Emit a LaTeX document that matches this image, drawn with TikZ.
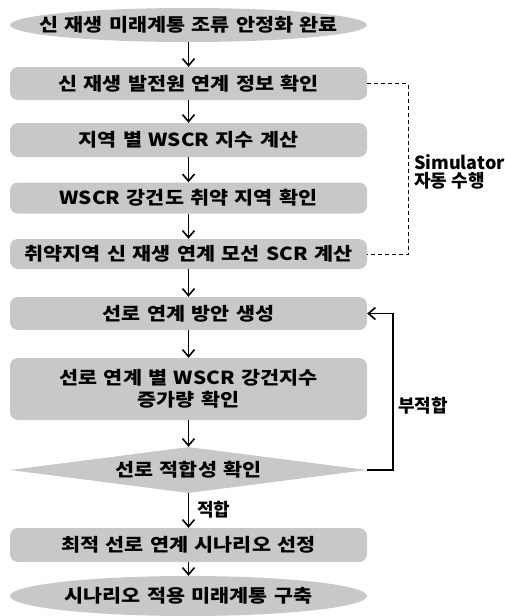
\documentclass[tikz,border=0pt]{standalone}
\usepackage{fontspec}
\setmainfont{Noto Sans CJK KR}
\newfontfamily\boxfont{Noto Sans CJK KR}[FakeStretch=1.15,WordSpace=1.35]
\usetikzlibrary{arrows.meta,shapes.geometric}
\definecolor{boxgray}{RGB}{200,200,200}

\begin{document}
\begin{tikzpicture}[x=1pt,y=-1pt,>={Straight Barb[length=7pt,width=12pt]},
	stepbox/.style={fill=boxgray,rounded corners=8pt,minimum width=357pt,minimum height=#1,
		inner sep=0pt,align=center,font=\boxfont\fontsize{18}{22}\selectfont\bfseries},
	endbox/.style={minimum width=357pt,minimum height=#1,inner sep=0pt,
		font=\boxfont\fontsize{18}{22}\selectfont\bfseries},
	checkbox/.style={diamond,fill=boxgray,aspect=7.8,minimum width=357pt,minimum height=46pt,
		inner sep=0pt,font=\boxfont\fontsize{18}{22}\selectfont\bfseries},
	side/.style={anchor=west,align=left,inner sep=0pt,font=\fontsize{18}{18}\selectfont\bfseries},
	flow/.style={->,line width=1.6pt}]
	\useasboundingbox (0,0) rectangle (504,616);

	% start / end ellipses
	\fill[boxgray] (188.5,25) ellipse (178.5 and 17);
	\fill[boxgray] (188.5,596) ellipse (178.5 and 20);
	\node[endbox=34pt] (start) at (188.5,25) {신 재생 미래계통 조류 안정화 완료};
	\node[endbox=40pt] (finish) at (188.5,596) {시나리오 적용 미래계통 구축};

	% steps
	\node[stepbox=33pt] (info) at (188.5,83.5) {신 재생 발전원 연계 정보 확인};
	\node[stepbox=34pt] (wscr) at (188.5,140) {지역 별 WSCR 지수 계산};
	\node[stepbox=31pt] (weak) at (188.5,198) {WSCR 강건도 취약 지역 확인};
	\node[stepbox=30pt] (scr) at (188.5,254) {취약지역 신 재생 연계 모선 SCR 계산};
	\node[stepbox=33pt] (plan) at (188.5,313.5) {선로 연계 방안 생성};
	\node[stepbox=62pt] (gain) at (188.5,389) {선로 연계 별 WSCR 강건지수\\증가량 확인};
	\node[checkbox] (check) at (188.5,470) {선로 적합성 확인};
	\node[stepbox=34pt] (best) at (188.5,545) {최적 선로 연계 시나리오 선정};

	% main flow
	\draw[flow] (start) -- (info);
	\draw[flow] (info) -- (wscr);
	\draw[flow] (wscr) -- (weak);
	\draw[flow] (weak) -- (scr);
	\draw[flow] (scr) -- (plan);
	\draw[flow] (plan) -- (gain);
	\draw[flow] (gain) -- (check);
	\draw[flow] (check) -- (best);
	\draw[flow] (best) -- (finish);

	% simulator bracket
	\draw[dashed,line width=0.9pt,dash pattern=on 4pt off 3pt] (info.east) -- ++(41,0) |- (scr.east);
	\node[side] (sim) at (414,172) {Simulator\\자동 수행};

	% feedback loop
	\draw[flow] (check.east) -- ++(26,0) |- (plan.east);
	\node[side] (nofit) at (398,406) {부적합};
	\node[side] (fit) at (197,510) {적합};
\end{tikzpicture}
\end{document}
